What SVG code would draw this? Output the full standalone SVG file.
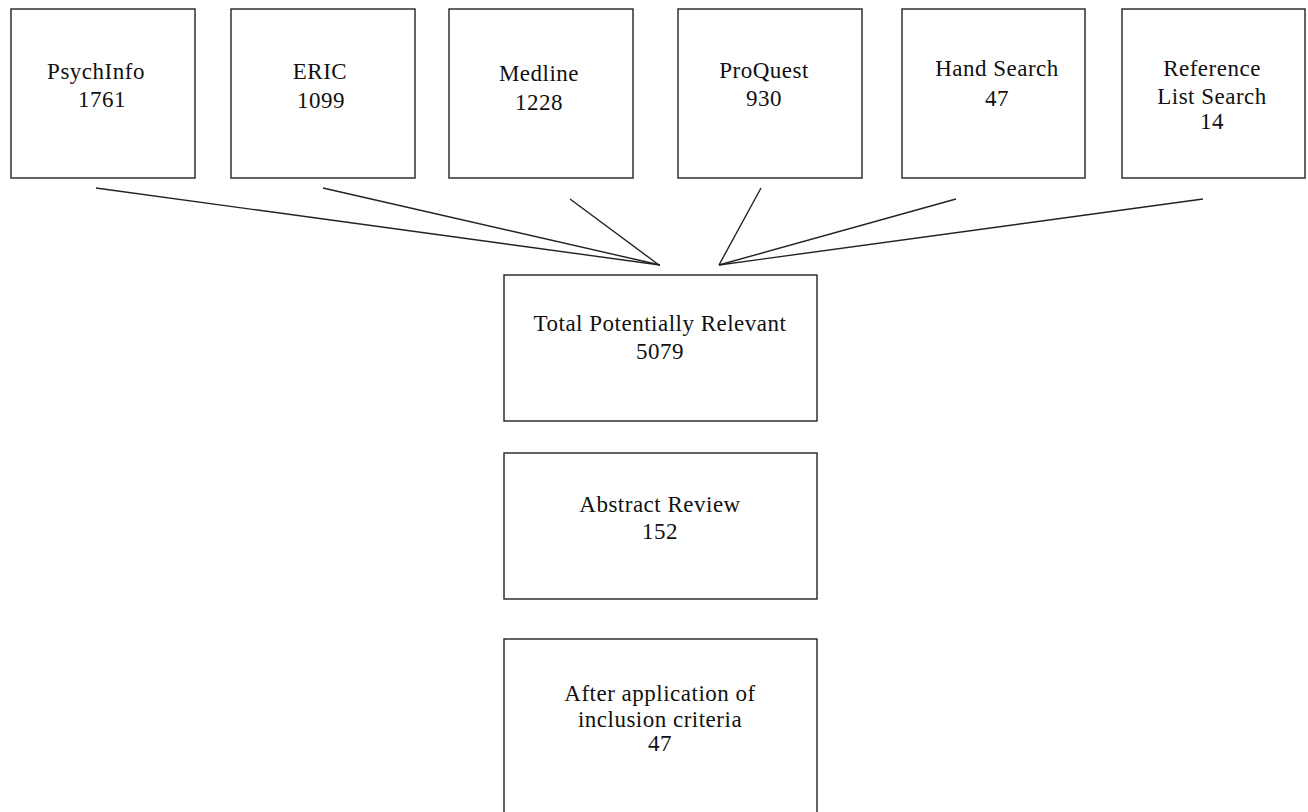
<svg xmlns="http://www.w3.org/2000/svg" width="1308" height="812" viewBox="0 0 1308 812">
<style>
.box{fill:#fff;stroke:#222;stroke-width:1.4}
.t{font-family:"Liberation Serif","Times New Roman",serif;font-size:23px;letter-spacing:0.5px;fill:#111;text-anchor:middle}
.c{stroke:#222;stroke-width:1.4;fill:none}
</style>
<rect width="1308" height="812" fill="#fff"/>
<g id="connectors">
<line class="c" x1="96" y1="188" x2="660" y2="265"/>
<line class="c" x1="323" y1="188" x2="660" y2="265"/>
<line class="c" x1="570" y1="199" x2="659" y2="265"/>
<line class="c" x1="761" y1="188" x2="719" y2="265"/>
<line class="c" x1="956" y1="199" x2="719" y2="265"/>
<line class="c" x1="1203" y1="199" x2="719" y2="265"/>
</g>
<g id="psychinfo"><rect class="box" x="11" y="9" width="184" height="169"/><text class="t" x="96" y="79">PsychInfo</text><text class="t" x="102" y="107">1761</text></g>
<g id="eric"><rect class="box" x="231" y="9" width="184" height="169"/><text class="t" x="320" y="79">ERIC</text><text class="t" x="321" y="108">1099</text></g>
<g id="medline"><rect class="box" x="449" y="9" width="184" height="169"/><text class="t" x="539" y="81">Medline</text><text class="t" x="539" y="110">1228</text></g>
<g id="proquest"><rect class="box" x="678" y="9" width="184" height="169"/><text class="t" x="764" y="78">ProQuest</text><text class="t" x="764" y="106">930</text></g>
<g id="handsearch"><rect class="box" x="902" y="9" width="183" height="169"/><text class="t" x="997" y="76">Hand Search</text><text class="t" x="997" y="106">47</text></g>
<g id="reflist"><rect class="box" x="1122" y="9" width="183" height="169"/><text class="t" x="1212" y="76">Reference</text><text class="t" x="1212" y="104">List Search</text><text class="t" x="1212" y="129">14</text></g>
<g id="total"><rect class="box" x="504" y="275" width="313" height="146"/><text class="t" x="660" y="331">Total Potentially Relevant</text><text class="t" x="660" y="359">5079</text></g>
<g id="abstract"><rect class="box" x="504" y="453" width="313" height="146"/><text class="t" x="660" y="512">Abstract Review</text><text class="t" x="660" y="539">152</text></g>
<g id="after"><rect class="box" x="504" y="639" width="313" height="190"/><text class="t" x="660" y="701">After application of</text><text class="t" x="660" y="727">inclusion criteria</text><text class="t" x="660" y="751">47</text></g>
</svg>
